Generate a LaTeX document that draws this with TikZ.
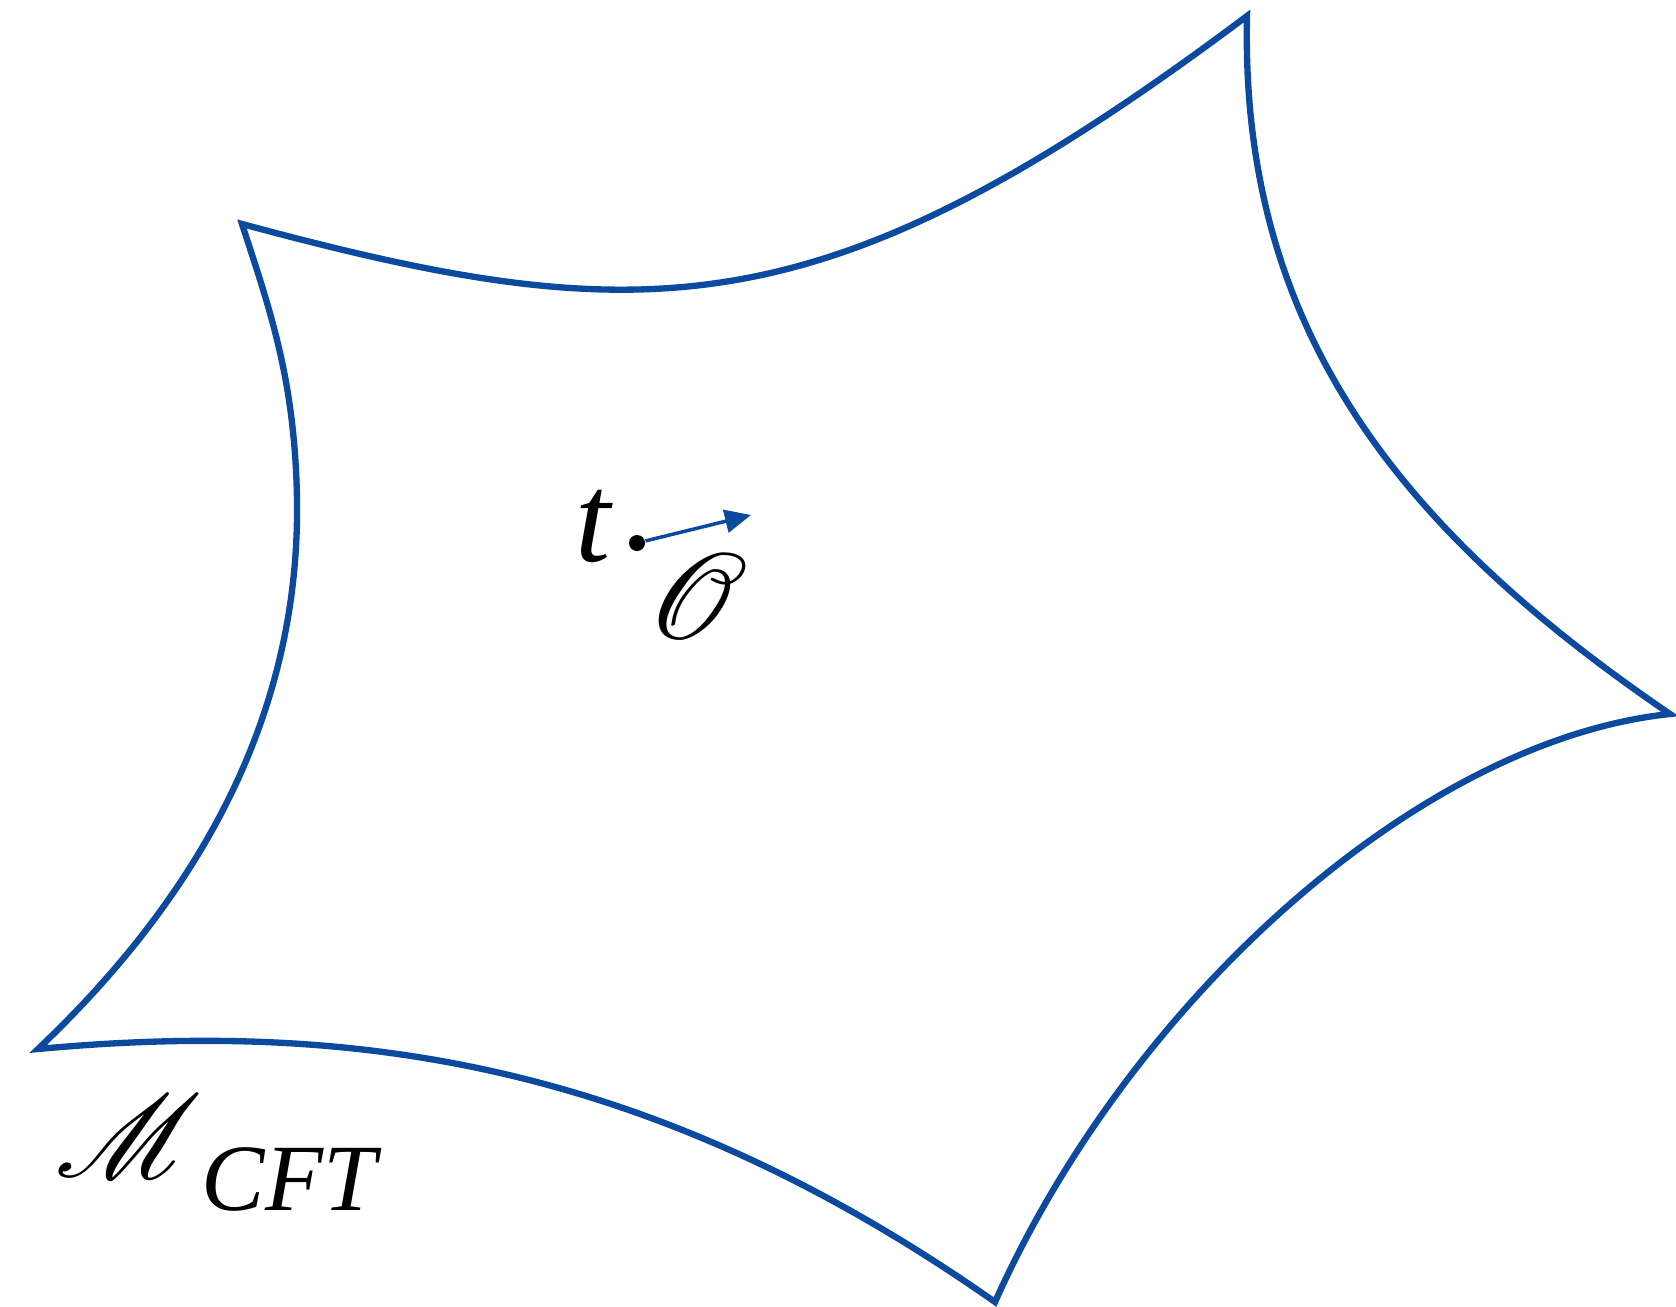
\documentclass[tikz,border=0pt]{standalone}
\usepackage{amsmath}
\usepackage{mathrsfs}
\usepackage{fontspec}
\setmainfont{Liberation Serif}
\usetikzlibrary{arrows.meta}
\definecolor{edgeBlue}{HTML}{0B4A9E}

\begin{document}
\begin{tikzpicture}[
  x=0.01cm, y=-0.01cm,
  every node/.style={inner sep=0pt},
  border/.style={edgeBlue, line width=1.8pt, line join=miter},
  arr/.style={-{Triangle[length=2.6mm, width=2.3mm]}, edgeBlue, line width=1pt},
  bigtext/.style={font=\fontsize{36}{43}\selectfont},
  scripttext/.style={font=\fontsize{24.88}{30}\selectfont},
  subtext/.style={font=\fontsize{27}{32}\selectfont\itshape}
]
  \useasboundingbox (0,0) rectangle (1676,1306);

  % cusps of the region
  \coordinate (cuspNW) at (242,224);
  \coordinate (cuspN)  at (1247,16);
  \coordinate (cuspE)  at (1670,714);
  \coordinate (cuspS)  at (995,1302);
  \coordinate (cuspW)  at (38,1049);

  % boundary, five concave sides
  \draw[border] (cuspNW)
    .. controls (646,333) and (824,333) .. (cuspN)
    .. controls (1240,330) and (1400,530) .. (cuspE)
    .. controls (1420,740) and (1130,1000) .. (cuspS)
    .. controls (650,1060) and (350,1020) .. (cuspW)
    .. controls (195,900) and (300,720) .. (297,500)
    .. controls (295,380) and (270,310) .. (cuspNW) -- cycle;

  % point and operator
  \node[circle, fill=black, minimum size=1.6mm] (pt) at (637,543) {};
  \coordinate (tip) at (751,515);
  \draw[arr] (pt) -- (tip);
  \node[bigtext] (tlabel) at (594,526) {\textit{t}};
  \node[scripttext] (olabel) at (698,597) {\scalebox{1.4}{$\mathscr{O}$}};

  % manifold label
  \node[scripttext, anchor=south west] (mscr) at (55,1178) {\scalebox{1.35}{$\mathscr{M}$}};
  \node[subtext, anchor=base west] (msub) at (201,1210) {CFT};
\end{tikzpicture}
\end{document}
